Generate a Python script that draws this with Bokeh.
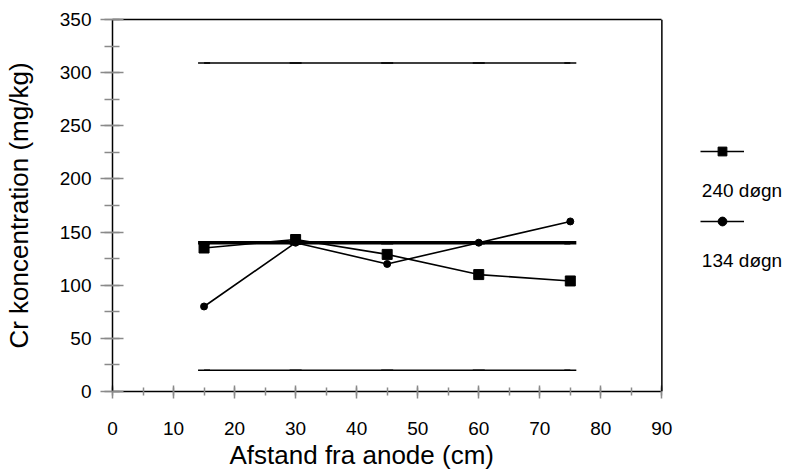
from bokeh.plotting import figure
from bokeh.models import (SingleIntervalTicker, FixedTicker, LinearAxis, Span,
                          Legend, LegendItem, Label, Title)
from bokeh.embed import file_html
from bokeh.resources import INLINE

# ---- data ----
distance = [15, 30, 45, 60, 75]
cr_240 = [135, 143, 129, 110, 104]
cr_134 = [80, 140, 120, 140, 160]
upper_limit = [309, 309, 309, 309, 309]
mid_level = [140, 140, 140, 140, 140]
lower_limit = [20, 20, 20, 20, 20]
series_names = ["240 døgn", "134 døgn"]
x_title = "Afstand fra anode (cm)"
y_title = "Cr koncentration (mg/kg)"
x_axis_span = (0, 90)
y_axis_span = (0, 350)

FONT = "Liberation Sans"

# x range extends past the axis so the legend area sits inside the frame
p = figure(width=792, height=471, x_range=(0, 111.4), y_range=y_axis_span,
           output_backend="svg", toolbar_location=None,
           min_border_left=100, min_border_right=0,
           min_border_top=19, min_border_bottom=80)

p.xgrid.visible = False
p.ygrid.visible = False
p.outline_line_color = None
p.background_fill_color = "white"
p.border_fill_color = "white"

xax = p.xaxis[0]
yax = p.yaxis[0]
xax.bounds = x_axis_span
xax.ticker = SingleIntervalTicker(interval=10, num_minor_ticks=2)
yax.ticker = SingleIntervalTicker(interval=50, num_minor_ticks=2)

for ax in (xax, yax):
    ax.axis_line_color = "black"
    ax.axis_line_width = 1.5
    ax.major_tick_line_color = "#8a8a8a"
    ax.minor_tick_line_color = "#8a8a8a"
    ax.major_tick_line_width = 1.5
    ax.minor_tick_line_width = 1.5
    ax.major_label_text_font = FONT
    ax.major_label_text_font_size = "19px"
    ax.major_label_text_color = "black"
    ax.axis_label_text_font = FONT
    ax.axis_label_text_font_size = "26px"
    ax.axis_label_text_font_style = "normal"
    ax.axis_label_text_color = "black"

xax.major_tick_in = 6
xax.major_tick_out = 7
xax.minor_tick_in = 4
xax.minor_tick_out = 4
xax.major_label_standoff = 23

yax.major_tick_in = 11
yax.major_tick_out = 12
yax.minor_tick_in = 7
yax.minor_tick_out = 8
yax.major_label_standoff = 9
yax.axis_label = y_title
yax.axis_label_standoff = 23

# x-axis title, left-aligned under the axis like the original
p.add_layout(Title(text=x_title, align="left", offset=117, standoff=0,
                   text_font=FONT, text_font_size="26px",
                   text_font_style="normal", text_color="black"), "below")

# top border of the box (axis without ticks) and right border at x = 90
top_axis = LinearAxis(ticker=FixedTicker(ticks=[]), bounds=x_axis_span,
                      axis_line_color="black", axis_line_width=1.5,
                      major_tick_in=0, major_tick_out=0,
                      minor_tick_in=0, minor_tick_out=0)
p.add_layout(top_axis, "above")
p.add_layout(Span(location=x_axis_span[1], dimension="height",
                  line_color="black", line_width=1.5))

# reference levels
for lv, lw in ((upper_limit, 1.5), (lower_limit, 1.5), (mid_level, 3.5)):
    p.line(distance, lv, line_color="black", line_width=lw)
    p.scatter(distance, lv, marker="dash", size=12, line_color="black", line_width=lw)

# series
r240_l = p.line(distance, cr_240, line_color="black", line_width=1.6)
r240_m = p.scatter(distance, cr_240, marker="square", size=10,
                   fill_color="black", line_color="black")
r134_l = p.line(distance, cr_134, line_color="black", line_width=1.6)
r134_m = p.scatter(distance, cr_134, marker="circle", size=7,
                   fill_color="black", line_color="black")

# legend glyphs (their labels are drawn below them)
def make_legend(renderers, loc):
    lg = Legend(items=[LegendItem(label=" ", renderers=renderers)],
                location=loc, glyph_width=44, glyph_height=22,
                label_standoff=0, label_width=0, label_height=22,
                label_text_font_size="1px",
                padding=0, margin=0, spacing=0,
                border_line_color=None, background_fill_alpha=0)
    p.add_layout(lg, "center")

make_legend([r240_l, r240_m], (588, 229))
make_legend([r134_l, r134_m], (588, 159))

for name, yv in zip(series_names, (189.5, 123.5)):
    p.add_layout(Label(x=x_axis_span[1], y=yv, x_offset=40, text=name,
                       text_font=FONT, text_font_size="19px",
                       text_baseline="middle", text_color="black"))

open("out.html", "w").write(file_html(p, INLINE))
